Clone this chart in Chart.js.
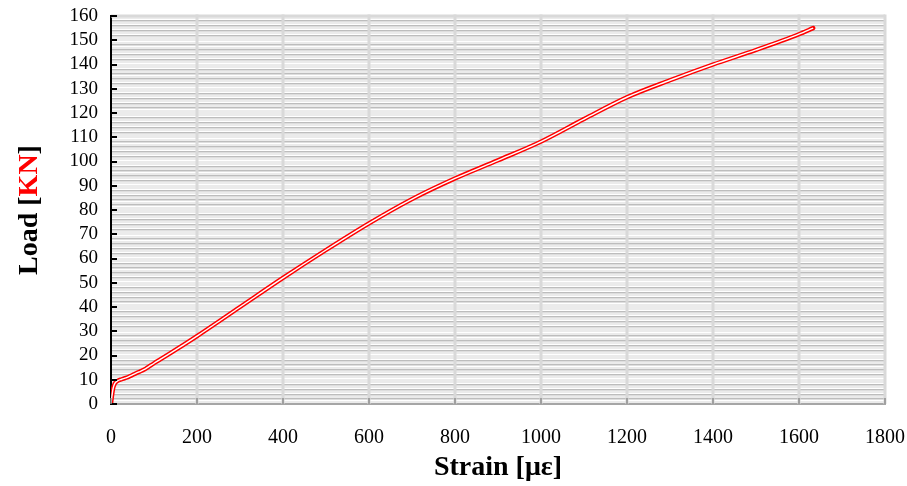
<!DOCTYPE html>
<html>
<head>
<meta charset="utf-8">
<script src="https://cdn.jsdelivr.net/npm/chart.js@4"></script>
<style>
  html, body { margin: 0; padding: 0; background: #fff; }
  #wrap { width: 907px; height: 486px; }
</style>
</head>
<body>
<div id="wrap"><canvas id="loadChart" width="907" height="486"></canvas></div>
<script>
// Data
const strain = [0, 2, 5, 9, 15, 25, 35, 50, 65, 80, 100, 150, 200, 300, 400, 500, 600, 700, 800, 900, 1000, 1100, 1200, 1300, 1400, 1500, 1600, 1633];
const load = [0, 3, 6.5, 8.5, 9.5, 10.2, 10.8, 12, 13.2, 14.5, 16.8, 22.3, 28, 40, 52, 63.5, 74.5, 84.5, 93, 100.5, 108.2, 117.5, 126.5, 133.5, 140, 146, 152.5, 155];
const xTicks = [0, 200, 400, 600, 800, 1000, 1200, 1400, 1600, 1800];
const yMajor = [0, 10, 20, 30, 40, 50, 60, 70, 80, 90, 100, 110, 120, 130, 140, 150, 160];

const points = strain.map((s, i) => ({ x: s, y: load[i] }));
const FONT = "'Liberation Serif', 'Times New Roman', serif";

// vertical grid on top of horizontal lines, axis tick marks, titles
const decor = {
    id: 'decor',
    beforeDatasetsDraw(chart) {
        const { ctx, chartArea: a, scales: { x } } = chart;
        ctx.save();
        ctx.strokeStyle = '#d9d9d9';
        ctx.lineWidth = 3;
        xTicks.forEach(v => {
            if (v === 0) return;
            const px = Math.round(x.getPixelForValue(v));
            ctx.beginPath();
            ctx.moveTo(px, a.top - 1.5);
            ctx.lineTo(px, a.bottom);
            ctx.stroke();
        });
        ctx.beginPath();
        ctx.moveTo(a.left, a.top);
        ctx.lineTo(a.right, a.top);
        ctx.stroke();
        ctx.restore();
    },
    afterDatasetsDraw(chart) {
        const { ctx, chartArea: a, scales: { x, y } } = chart;
        ctx.save();
        ctx.strokeStyle = '#000';
        ctx.lineWidth = 2;
        yMajor.forEach(v => {
            const py = Math.round(y.getPixelForValue(v));
            ctx.beginPath();
            ctx.moveTo(a.left, py);
            ctx.lineTo(a.left + 6, py);
            ctx.stroke();
        });
        ctx.strokeStyle = '#8c8c8c';
        ctx.lineWidth = 1.5;
        xTicks.forEach(v => {
            const px = Math.round(x.getPixelForValue(v));
            ctx.beginPath();
            ctx.moveTo(px, a.bottom);
            ctx.lineTo(px, a.bottom - 6);
            ctx.stroke();
        });
        ctx.restore();
    },
    afterDraw(chart) {
        const { ctx, chartArea: a } = chart;
        ctx.save();
        ctx.font = `bold 28px ${FONT}`;
        ctx.fillStyle = '#000';
        ctx.textAlign = 'center';
        ctx.textBaseline = 'middle';
        ctx.fillText('Strain [με]', (a.left + a.right) / 2, 468);

        const parts = [['Load [', '#000'], ['KN', '#ff0000'], [']', '#000']];
        const total = parts.reduce((w, p) => w + ctx.measureText(p[0]).width, 0);
        ctx.translate(30, (a.top + a.bottom) / 2);
        ctx.rotate(-Math.PI / 2);
        ctx.textAlign = 'left';
        let cx = -total / 2;
        parts.forEach(([txt, col]) => {
            ctx.fillStyle = col;
            ctx.fillText(txt, cx, 0);
            cx += ctx.measureText(txt).width;
        });
        ctx.restore();
    }
};

const chart = new Chart(document.getElementById('loadChart'), {
    type: 'line',
    data: {
        datasets: [
            { data: points, borderColor: '#ffffff', borderWidth: 1.4, pointRadius: 0, cubicInterpolationMode: 'monotone', order: 1 },
            { data: points, borderColor: '#ff0000', borderWidth: 4.4, borderCapStyle: 'round', pointRadius: 0, cubicInterpolationMode: 'monotone', order: 2 }
        ]
    },
    options: {
        responsive: false,
        animation: false,
        layout: { padding: { left: 60, right: 22, top: 16, bottom: 0 } },
        plugins: { legend: { display: false }, tooltip: { enabled: false } },
        scales: {
            x: {
                type: 'linear', min: 0, max: 1800,
                afterFit: s => { s.height = 82; s.paddingLeft = 0; s.paddingRight = 0; },
                ticks: { stepSize: 200, padding: 14, color: '#000', font: { family: FONT, size: 20 }, callback: v => String(v) },
                grid: { display: false },
                border: { display: true, color: '#a6a6a6', width: 2 }
            },
            y: {
                min: 0, max: 160,
                afterFit: s => { s.width = 51; s.paddingTop = 0; s.paddingBottom = 0; },
                ticks: {
                    stepSize: 1, autoSkip: false, maxTicksLimit: 200, padding: 13,
                    color: '#000', font: { family: FONT, size: 19 },
                    callback: v => (v % 10 === 0 ? String(v) : '')
                },
                grid: {
                    drawTicks: false,
                    color: c => {
                        const v = c.tick.value;
                        if (v % 10 === 0) return '#ebebeb';
                        return v % 2 === 0 ? '#bdbdbd' : '#ebebeb';
                    },
                    lineWidth: c => (c.tick.value % 2 === 0 && c.tick.value % 10 !== 0 ? 1.6 : 2)
                },
                border: { display: true, color: '#000', width: 2 }
            }
        }
    },
    plugins: [decor]
});
</script>
</body>
</html>
